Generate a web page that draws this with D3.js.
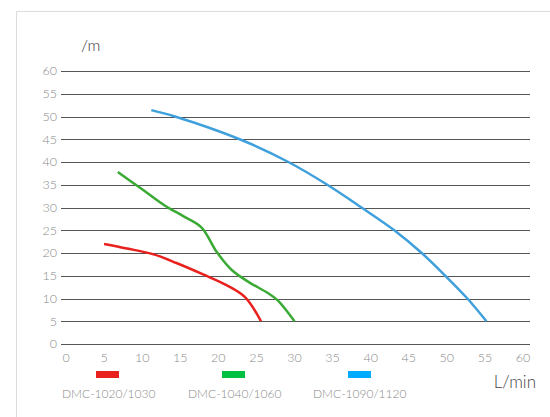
<!DOCTYPE html>
<html>
<head>
<meta charset="utf-8">
<script src="https://cdn.jsdelivr.net/npm/d3@7"></script>
<style>
  body { margin: 0; background: #fff; }
  text { font-family: Lato, "Open Sans", sans-serif; }
</style>
</head>
<body>
<div id="chart"></div>
<script>
// flow (L/min) vs head (m)
const xTicks = [0, 5, 10, 15, 20, 25, 30, 35, 40, 45, 50, 55, 60];
const yTicks = [0, 5, 10, 15, 20, 25, 30, 35, 40, 45, 50, 55, 60];

const seriesNames = ["DMC-1020/1030", "DMC-1040/1060", "DMC-1090/1120"];
const lineColors = ["#e8211f", "#3aaa35", "#3fa0dc"];
const legendColors = ["#e8211f", "#00c040", "#00aaff"];

const red = [[5, 22], [8, 21], [11.5, 19.7], [14.5, 17.8], [18, 15.3], [21, 13], [23.5, 10.3], [25.6, 5]];
const green = [[6.8, 37.8], [10, 34], [13, 30.4], [15.5, 28], [17.8, 25.6], [19.8, 20.2], [21.8, 16.2], [24, 13.6], [26.5, 11.2], [27.8, 9.6], [30, 5]];
const blue = [[11.2, 51.4], [14.3, 50], [22.8, 45], [29.2, 40], [34.3, 35], [38.8, 30], [43.1, 25], [46.7, 20], [49.8, 15], [52.7, 10], [55.2, 5]];

const allSeries = [red, green, blue];

const W = 550, H = 417;

const svg = d3.select("#chart")
  .append("svg")
  .attr("width", W)
  .attr("height", H);

// frame
svg.append("line")
  .attr("x1", 16.5).attr("y1", 11.5).attr("x2", W).attr("y2", 11.5)
  .attr("stroke", "#dcdcdc");
svg.append("line")
  .attr("x1", 16.5).attr("y1", 11.5).attr("x2", 16.5).attr("y2", H)
  .attr("stroke", "#dcdcdc");

const x = d3.scaleLinear().domain([0, 60]).range([66, 523]);
const y = d3.scaleLinear().domain([0, 60]).range([344, 71]);

// grid lines
svg.append("g")
  .selectAll("line")
  .data(yTicks)
  .enter()
  .append("line")
    .attr("x1", 61)
    .attr("x2", 530)
    .attr("y1", d => Math.round(y(d)) + 0.5)
    .attr("y2", d => Math.round(y(d)) + 0.5)
    .attr("stroke", "#555")
    .attr("stroke-width", 1);

// y labels
svg.append("g")
  .selectAll("text")
  .data(yTicks)
  .enter()
  .append("text")
    .attr("x", 57)
    .attr("y", d => y(d))
    .attr("dy", "0.35em")
    .attr("text-anchor", "end")
    .attr("fill", "#8a8a8a")
    .style("font-size", "12.5px")
    .style("font-weight", 300)
    .text(d => d);

// x labels
svg.append("g")
  .selectAll("text")
  .data(xTicks)
  .enter()
  .append("text")
    .attr("x", d => x(d))
    .attr("y", 358)
    .attr("dy", "0.35em")
    .attr("text-anchor", "middle")
    .attr("fill", "#8a8a8a")
    .style("font-size", "12.5px")
    .style("font-weight", 300)
    .text(d => d);

// axis titles
svg.append("text")
  .attr("x", 81)
  .attr("y", 51)
  .attr("fill", "#333")
  .style("font-size", "16px")
  .style("font-weight", 300)
  .text("/m");

svg.append("text")
  .attr("x", 536)
  .attr("y", 388)
  .attr("text-anchor", "end")
  .attr("fill", "#444")
  .style("font-size", "17px")
  .style("font-weight", 300)
  .text("L/min");

// curves
const line = d3.line()
  .x(d => x(d[0]))
  .y(d => y(d[1]))
  .curve(d3.curveCatmullRom.alpha(0.5));

svg.append("g")
  .selectAll("path")
  .data(allSeries)
  .enter()
  .append("path")
    .attr("d", line)
    .attr("fill", "none")
    .attr("stroke", (d, i) => lineColors[i])
    .attr("stroke-width", 2.5);

// legend
const legendX = [96, 222, 348];
const labelX = [62, 188, 313];

svg.append("g")
  .selectAll("rect")
  .data(seriesNames)
  .enter()
  .append("rect")
    .attr("x", (d, i) => legendX[i])
    .attr("y", 371)
    .attr("width", 23)
    .attr("height", 7)
    .attr("fill", (d, i) => legendColors[i]);

svg.append("g")
  .selectAll("text")
  .data(seriesNames)
  .enter()
  .append("text")
    .attr("x", (d, i) => labelX[i])
    .attr("y", 394)
    .attr("dy", "0.35em")
    .attr("fill", "#8a8a8a")
    .style("font-size", "12px")
    .style("font-weight", 300)
    .text(d => d);
</script>
</body>
</html>
